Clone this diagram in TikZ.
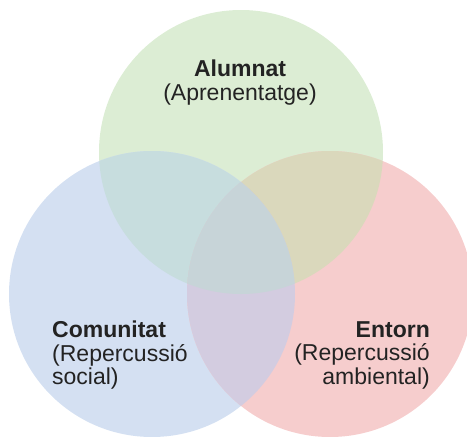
\documentclass[tikz,border=0pt]{standalone}
\usepackage{fontspec}
\setmainfont{Liberation Sans}
\definecolor{vgreen}{RGB}{220,237,212}
\definecolor{vblue}{RGB}{212,224,242}
\definecolor{vred}{RGB}{246,205,205}
\definecolor{vgb}{RGB}{199,221,222}
\definecolor{vgr}{RGB}{218,216,188}
\definecolor{vbr}{RGB}{211,204,224}
\definecolor{vall}{RGB}{199,212,216}
\definecolor{vtext}{RGB}{35,35,35}
\tikzset{lbl/.style={inner sep=0pt,text=vtext,font=\fontsize{23}{23.5}\selectfont}}
\begin{document}
\begin{tikzpicture}[x=1pt,y=-1pt]
\clip (0,0) rectangle (467,437);
\coordinate (alum) at (241,152);\coordinate (comu) at (152,294);\coordinate (ento) at (330,294);
\fill[vgreen] (alum) circle (142);\fill[vblue] (comu) circle (143);\fill[vred] (ento) circle (143);
% overlaps
\begin{scope}\clip (alum) circle (142);\fill[vgb] (comu) circle (143);\fill[vgr] (ento) circle (143);\end{scope}
\begin{scope}\clip (comu) circle (143);\fill[vbr] (ento) circle (143);\end{scope}
\begin{scope}\clip (alum) circle (142);\clip (comu) circle (143);\fill[vall] (ento) circle (143);\end{scope}
\node[lbl,anchor=north,align=center] (alumnat) at (240,60){\textbf{Alumnat}\\(Aprenentatge)};
\node[lbl,anchor=north west,align=left] (comunitat) at (52,321){\textbf{Comunitat}\\(Repercussió\\social)};
\node[lbl,anchor=north east,align=right] (entorn) at (430,321){\textbf{Entorn}\hspace{7pt}\\(Repercussió\\ambiental)};
\end{tikzpicture}
\end{document}
